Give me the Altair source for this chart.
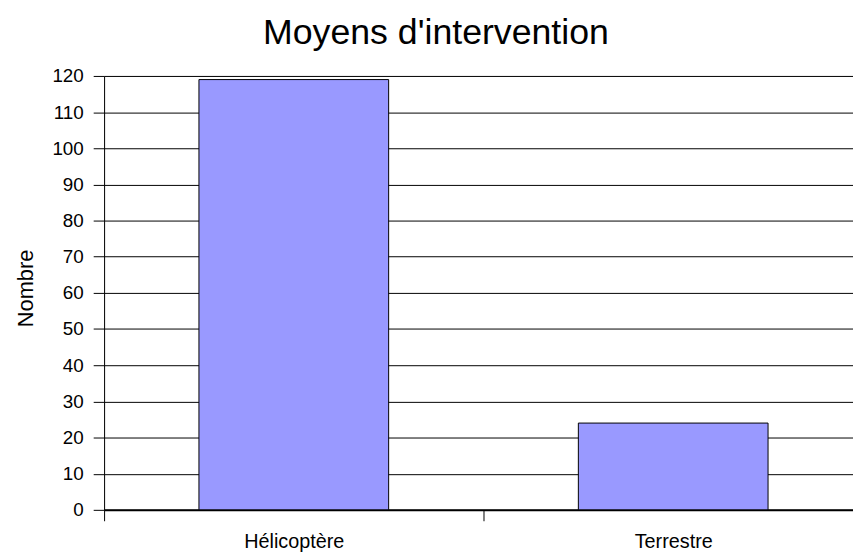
import altair as alt
import pandas as pd

categories = ["Hélicoptère", "Terrestre"]
values = [119, 24]
y_ticks = list(range(0, 121, 10))

df = pd.DataFrame({"cat": categories, "val": values})

FONT = "Liberation Sans"

bars = alt.Chart(df).mark_bar(
    color="#9999FF", stroke="black", strokeWidth=1,
    width=alt.RelativeBandSize(0.5),
).encode(
    x=alt.X(
        "cat:N",
        sort=categories,
        title=None,
        scale=alt.Scale(range=[0, 766], paddingInner=0, paddingOuter=0),
        axis=alt.Axis(
            labelAngle=0,
            labelFont=FONT,
            labelFontSize=20,
            labelColor="black",
            labelPadding=11,
            tickBand="extent",
            tickSize=11,
            tickColor="black",
            domainColor="black",
            domainWidth=2,
            grid=False,
        ),
    ),
    y=alt.Y(
        "val:Q",
        title="Nombre",
        scale=alt.Scale(domain=[0, 120], nice=False),
        axis=alt.Axis(
            values=y_ticks,
            labelFont=FONT,
            labelFontSize=19,
            labelColor="black",
            labelPadding=10,
            tickSize=11,
            tickColor="black",
            domainColor="black",
            grid=True,
            gridColor="black",
            gridWidth=1,
            gridOpacity=1,
            titleFont=FONT,
            titleFontSize=22,
            titleFontWeight="normal",
            titleColor="black",
            titleX=-72,
            titleY=214,
            titleBaseline="alphabetic",
            titleAngle=270,
        ),
    ),
)

chart = bars.properties(
    width=756,
    height=438,
    autosize=alt.AutoSizeParams(type="none"),
    padding={"left": 97, "top": 66, "right": 0, "bottom": 44},
    title=alt.TitleParams(
        "Moyens d'intervention",
        font=FONT,
        fontSize=36,
        fontWeight="normal",
        color="black",
        anchor="middle",
        frame="group",
        dx=-43,
        dy=28,
        baseline="alphabetic",
        offset=15,
    ),
).configure_view(stroke=None).configure(background="white")

chart.save("out.html", embed_options={"renderer": "svg", "actions": False})
